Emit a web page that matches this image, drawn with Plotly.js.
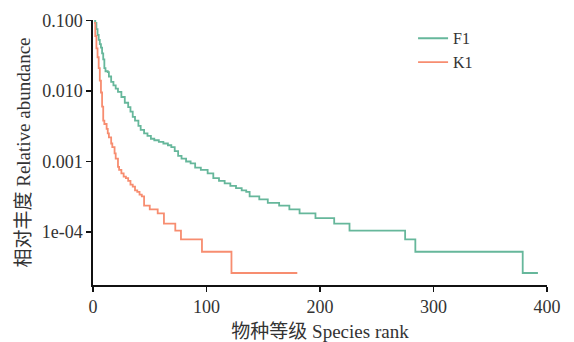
<!DOCTYPE html>
<html>
<head>
<meta charset="utf-8">
<script src="https://cdn.plot.ly/plotly-3.0.1.min.js"></script>
<style>html,body{margin:0;padding:0;background:#fff;}#chart{width:574px;height:342px;}</style>
</head>
<body>
<div id="chart"></div>
<script>
// Species rank / relative abundance
const f1Rank = [1,2,3,4,5,6,7,8,9,10,11,13,14,16,18,20,22,25,28,31,33,35,37,40,42,45,48,51,54,58,62,66,69,72,75,78,82,86,90,95,101,106,111,116,121,126,131,135,138,146.5,154,164,173,182,196,212.5,226,275,284,378.6,392];
const f1Abund = [0.098,0.092,0.075,0.062,0.053,0.046,0.041,0.034,0.028,0.021,0.019,0.0185,0.016,0.0134,0.012,0.0108,0.0097,0.0082,0.0068,0.0059,0.0051,0.0043,0.0038,0.0032,0.0028,0.0025,0.0023,0.0021,0.002,0.0019,0.0018,0.0017,0.0016,0.0014,0.0012,0.0011,0.001,0.00094,0.00082,0.00076,0.00068,0.00058,0.00053,0.00049,0.00045,0.00042,0.00039,0.00037,0.00032,0.00029,0.00026,0.000237,0.00021,0.000184,0.000158,0.000132,0.000105,0.000079,0.0000526,0.0000263,0.0000263];

const k1Rank = [1,2,3,4,5,6,7,8,9,10,12,13,14,16,17,19,20,22,23,25,27,29,31,33,35,37,39,41,43,45,50,57,62.5,72.5,77.5,96,122,180];
const k1Abund = [0.092,0.06,0.04,0.03,0.021,0.014,0.0095,0.006,0.0038,0.0034,0.0029,0.0025,0.0022,0.0018,0.0016,0.0013,0.0011,0.00084,0.00076,0.00068,0.00061,0.00058,0.00053,0.00047,0.00044,0.00039,0.00037,0.00034,0.00032,0.000237,0.00021,0.000184,0.000132,0.000105,0.000079,0.0000526,0.0000263,0.0000263];

const seriesNames = ['F1','K1'];
const xTicks = [0,100,200,300,400];
const yTickVals = [0.1,0.01,0.001,0.0001];
const yTickText = ['0.100','0.010','0.001','1e-04'];

const serif = 'Liberation Serif, Noto Sans CJK SC, serif';

const traces = [
  {x:f1Rank, y:f1Abund, name:seriesNames[0], type:'scatter', mode:'lines',
   line:{color:'#66b79b', width:1.8, shape:'hv'}},
  {x:k1Rank, y:k1Abund, name:seriesNames[1], type:'scatter', mode:'lines',
   line:{color:'#f78d70', width:1.8, shape:'hv'}}
];

const layout = {
  width:574, height:342,
  margin:{l:92.7, r:27.3, t:20, b:57},
  paper_bgcolor:'#ffffff', plot_bgcolor:'#ffffff',
  showlegend:true,
  legend:{x:0.705, y:0.995, xanchor:'left', yanchor:'top', bgcolor:'rgba(0,0,0,0)',
          font:{family:serif, size:16, color:'#333'}, tracegroupgap:0},
  xaxis:{range:[0,400], tickvals:xTicks, ticktext:xTicks.map(String),
         showgrid:false, zeroline:false, showline:true, linecolor:'#111', linewidth:1.6,
         ticks:'outside', ticklen:5, tickwidth:1.5, tickcolor:'#111',
         tickfont:{family:serif, size:18, color:'#333'},
         title:{text:'物种等级 Species rank', font:{family:serif, size:19, color:'#333'}, standoff:18}},
  yaxis:{type:'log', range:[-4.75,-0.995], tickvals:yTickVals, ticktext:yTickText,
         showgrid:false, zeroline:false, showline:true, linecolor:'#111', linewidth:1.6,
         ticks:'outside', ticklen:5, tickwidth:1.5, tickcolor:'#111',
         tickfont:{family:serif, size:18, color:'#333'},
         title:{text:'相对丰度 Relative abundance', font:{family:serif, size:19, color:'#333'}, standoff:6}}
};

Plotly.newPlot('chart', traces, layout, {displayModeBar:false, staticPlot:true});
</script>
</body>
</html>
